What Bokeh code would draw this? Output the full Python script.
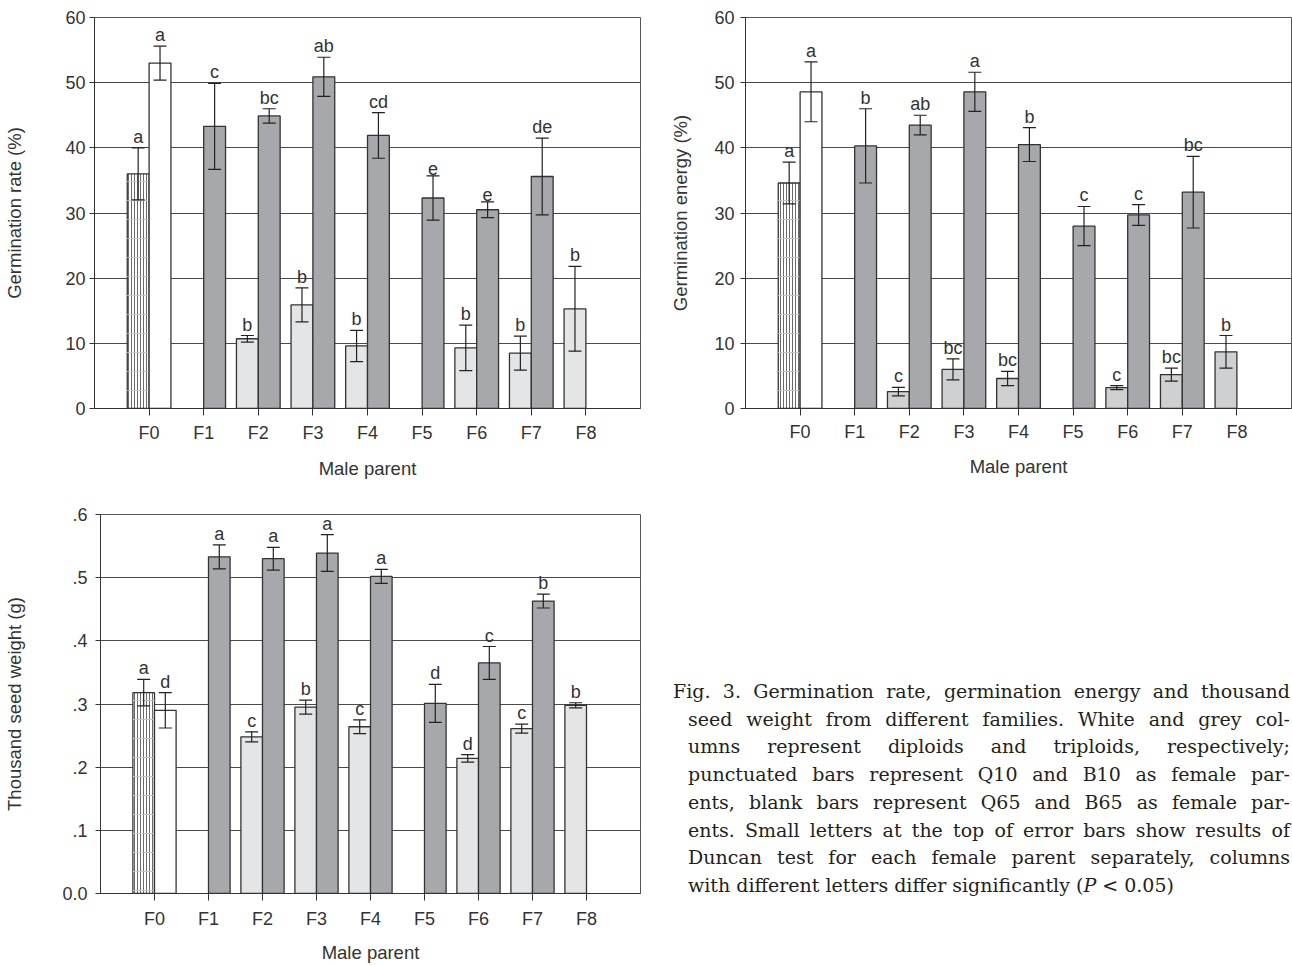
from bokeh.plotting import figure
from bokeh.models import ColumnDataSource, FixedTicker, Whisker, TeeHead, Div, Range1d
from bokeh.layouts import row, column
from bokeh.core.properties import value
from bokeh.embed import file_html
from bokeh.resources import INLINE

# ---------------- data ----------------
male = ["F0", "F1", "F2", "F3", "F4", "F5", "F6", "F7", "F8"]

# Germination rate (%)  - left bars: Q10/B10 female parent, right bars: Q65/B65 female parent
rate_10 = [36.0, None, 10.7, 15.9, 9.6, None, 9.3, 8.5, 15.3]
rate_10_err = [4.0, None, 0.5, 2.6, 2.4, None, 3.5, 2.6, 6.5]
rate_10_let = ["a", None, "b", "b", "b", None, "b", "b", "b"]
rate_65 = [53.0, 43.3, 44.9, 50.9, 41.9, 32.3, 30.5, 35.6, None]
rate_65_err = [2.6, 6.6, 1.1, 3.0, 3.5, 3.4, 1.2, 5.9, None]
rate_65_let = ["a", "c", "bc", "ab", "cd", "e", "e", "de", None]

# Germination energy (%)
energy_10 = [34.6, None, 2.6, 6.0, 4.6, None, 3.2, 5.2, 8.7]
energy_10_err = [3.2, None, 0.65, 1.6, 1.1, None, 0.3, 1.0, 2.5]
energy_10_let = ["a", None, "c", "bc", "bc", None, "c", "bc", "b"]
energy_65 = [48.6, 40.3, 43.5, 48.6, 40.5, 28.0, 29.7, 33.2, None]
energy_65_err = [4.6, 5.7, 1.5, 3.0, 2.6, 3.0, 1.6, 5.5, None]
energy_65_let = ["a", "b", "ab", "a", "b", "c", "c", "bc", None]

# Thousand seed weight (g)
weight_10 = [0.318, None, 0.248, 0.295, 0.264, None, 0.214, 0.261, 0.298]
weight_10_err = [0.021, None, 0.008, 0.011, 0.011, None, 0.006, 0.007, 0.004]
weight_10_let = ["a", None, "c", "b", "c", None, "d", "c", "b"]
weight_65 = [0.290, 0.533, 0.530, 0.539, 0.502, 0.301, 0.365, 0.463, None]
weight_65_err = [0.028, 0.019, 0.018, 0.029, 0.011, 0.030, 0.026, 0.011, None]
weight_65_let = ["d", "a", "a", "a", "a", "d", "c", "b", None]

pct_ticks = [0, 10, 20, 30, 40, 50, 60]
pct_labels = ["0", "10", "20", "30", "40", "50", "60"]
g_ticks = [0.0, 0.1, 0.2, 0.3, 0.4, 0.5, 0.6]
g_labels = ["0.0", ".1", ".2", ".3", ".4", ".5", ".6"]

caption_lines = [
    "Fig. 3. Germination rate, germination energy and thousand",
    "seed weight from different families. White and grey col-",
    "umns represent diploids and triploids, respectively;",
    "punctuated bars represent Q10 and B10 as female par-",
    "ents, blank bars represent Q65 and B65 as female par-",
    "ents. Small letters at the top of error bars show results of",
    "Duncan test for each female parent separately, columns",
    "with different letters differ significantly (<i>P</i> &lt; 0.05)",
]

# ---------------- style ----------------
FONT = "Liberation Sans"
TXT = "#333333"
DARK = "#a7a8ab"
EDGE = "#333333"


def make_source(vals, errs, lets, offset, side, light):
    d = dict(x=[], top=[], up=[], lo=[], let=[], fill=[], hatch=[], hatch2=[])
    for i, (v, e, l) in enumerate(zip(vals, errs, lets)):
        if v is None:
            continue
        control = male[i] == "F0"
        d["x"].append(i + offset)
        d["top"].append(v)
        d["up"].append(v + e)
        d["lo"].append(v - e)
        d["let"].append(l)
        if side == "left":
            d["fill"].append("white" if control else light)
            d["hatch"].append("|" if control else " ")
            d["hatch2"].append("-" if control else " ")
        else:
            d["fill"].append("white" if control else DARK)
            d["hatch"].append(" ")
            d["hatch2"].append(" ")
    return ColumnDataSource(d)


def make_chart(left, right, ymax, yticks, ylabels, ylabel, light, width, height,
               mb_left, mb_right, mb_top, mb_bottom,
               ytick_standoff, ylab_standoff, xtick_standoff, xlab_standoff):
    p = figure(width=width, height=height, output_backend="svg", toolbar_location=None,
               x_range=Range1d(-1, len(male)), y_range=Range1d(0, ymax),
               min_border_left=mb_left, min_border_right=mb_right,
               min_border_top=mb_top, min_border_bottom=mb_bottom)
    p.background_fill_color = "white"
    p.border_fill_color = "white"
    p.outline_line_color = "#555555"
    p.outline_line_width = 1

    p.xgrid.visible = False
    p.ygrid.ticker = FixedTicker(ticks=yticks)
    p.ygrid.grid_line_color = "#4a4a4a"
    p.ygrid.grid_line_width = 1

    ya = p.yaxis[0]
    ya.ticker = FixedTicker(ticks=yticks)
    ya.major_label_overrides = dict(zip(yticks, ylabels))
    ya.minor_tick_line_color = None
    ya.major_tick_in = 0
    ya.major_tick_out = 5
    ya.major_label_standoff = ytick_standoff
    ya.axis_label = ylabel
    ya.axis_label_standoff = ylab_standoff

    xa = p.xaxis[0]
    xa.ticker = FixedTicker(ticks=list(range(len(male))))
    xa.major_label_overrides = {i: m for i, m in enumerate(male)}
    xa.minor_tick_line_color = None
    xa.major_tick_in = 0
    xa.major_tick_out = 7
    xa.major_label_standoff = xtick_standoff
    xa.axis_label = "Male parent"
    xa.axis_label_standoff = xlab_standoff

    for ax in (xa, ya):
        ax.axis_line_color = "#333333"
        ax.major_tick_line_color = "#333333"
        ax.major_label_text_font = FONT
        ax.major_label_text_font_size = "18px"
        ax.major_label_text_color = TXT
        ax.axis_label_text_font = FONT
        ax.axis_label_text_font_size = "18.5px"
        ax.axis_label_text_font_style = "normal"
        ax.axis_label_text_color = TXT

    srcs = [make_source(*left, -0.2, "left", light), make_source(*right, 0.2, "right", light)]
    for src in srcs:
        p.vbar(x="x", top="top", bottom=0, width=0.4, source=src,
               fill_color="fill", line_color=EDGE, line_width=1.3,
               hatch_pattern="hatch", hatch_color="#6a6a6a", hatch_scale=3, hatch_weight=1)
        p.vbar(x="x", top="top", bottom=0, width=0.4, source=src,
               fill_color=None, line_color=None,
               hatch_pattern="hatch2", hatch_color="#c4c4c4", hatch_scale=19, hatch_weight=1)
    for src in srcs:
        p.add_layout(Whisker(base="x", upper="up", lower="lo", source=src,
                             line_color="#222222", line_width=1.2, level="overlay",
                             upper_head=TeeHead(size=13, line_color="#222222", line_width=1.2),
                             lower_head=TeeHead(size=13, line_color="#222222", line_width=1.2)))
        p.text(x="x", y="up", text="let", source=src, text_align="center",
               text_baseline="bottom", y_offset=-1, text_font=value(FONT),
               text_font_size="18px", text_color=TXT)
    return p


p1 = make_chart((rate_10, rate_10_err, rate_10_let), (rate_65, rate_65_err, rate_65_let),
                60, pct_ticks, pct_labels, "Germination rate (%)", "#e4e5e7",
                width=664, height=481, mb_left=94, mb_right=24, mb_top=17, mb_bottom=72,
                ytick_standoff=4, ylab_standoff=37, xtick_standoff=7, xlab_standoff=12)

p2 = make_chart((energy_10, energy_10_err, energy_10_let), (energy_65, energy_65_err, energy_65_let),
                60, pct_ticks, pct_labels, "Germination energy (%)", "#cfd0d1",
                width=628, height=481, mb_left=81, mb_right=1, mb_top=17, mb_bottom=72,
                ytick_standoff=6, ylab_standoff=20, xtick_standoff=6, xlab_standoff=11)

p3 = make_chart((weight_10, weight_10_err, weight_10_let), (weight_65, weight_65_err, weight_65_let),
                0.6, g_ticks, g_labels, "Thousand seed weight (g)", "#e4e5e7",
                width=648, height=484, mb_left=100, mb_right=8, mb_top=33, mb_bottom=68,
                ytick_standoff=8, ylab_standoff=34, xtick_standoff=8, xlab_standoff=10)

line_html = []
for k, ln in enumerate(caption_lines):
    last = k == len(caption_lines) - 1
    indent = 0 if k == 0 else 15
    align = "left" if last else "justify"
    line_html.append(
        f'<div style="padding-left:{indent}px;text-align:{align};'
        f'text-align-last:{align};">{ln}</div>'
    )
caption = Div(
    text=('<div style="box-sizing:border-box;width:642px;padding-top:197px;padding-left:25px;'
          'font-family:\'DejaVu Serif\';font-size:19px;line-height:27.7px;color:#231f20;">'
          + "".join(line_html) + "</div>"),
    width=644, height=484, margin=0,
)

layout = column(row(p1, p2), row(p3, caption))

open("out.html", "w").write(file_html(layout, INLINE))
